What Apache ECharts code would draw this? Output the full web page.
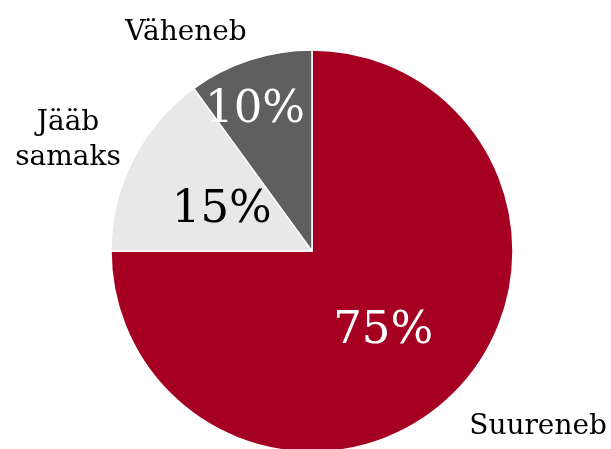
<!DOCTYPE html>
<html>
<head>
<meta charset="utf-8">
<script src="https://cdn.jsdelivr.net/npm/echarts@6/dist/echarts.min.js"></script>
<style>
html,body{margin:0;padding:0;background:#fff;}
#chart{width:611px;height:449px;}
</style>
</head>
<body>
<div id="chart"></div>
<script>
var names = ['Suureneb', 'Jääb\nsamaks', 'Väheneb'];
var values = [75, 15, 10];
var colors = ['#a50021', '#e8e8e8', '#5f5f5f'];
var pctColors = ['#ffffff', '#000000', '#ffffff'];

var font = 'Georgia, "DejaVu Serif", serif';
var data = [];
for (var i = 0; i < names.length; i++) {
	data.push({
		name: names[i],
		value: values[i],
		itemStyle: {color: colors[i]},
		label: {color: pctColors[i]}
	});
}
var nameData = [];
for (var j = 0; j < names.length; j++) {
	nameData.push({name: names[j], value: values[j]});
}

// nudges for the labels
var pctShift = [[-2, 7], [2, 6], [-25, -42]];
var nameShift = [[3, 27], [-51, -15], [5, -18]];

var chart = echarts.init(document.getElementById('chart'));
var option = {
	animation: false,
	series: [
		{
			type: 'pie',
			center: [312, 251],
			radius: 201,
			startAngle: 90,
			clockwise: true,
			silent: true,
			itemStyle: {borderColor: '#fff', borderWidth: 1.5},
			label: {
				position: 'inside',
				fontFamily: font,
				fontSize: 45,
				formatter: '{c}%'
			},
			labelLayout: function (p) {
				return {dx: pctShift[p.dataIndex][0], dy: pctShift[p.dataIndex][1]};
			},
			data: data
		},
		{
			type: 'pie',
			center: [312, 251],
			radius: 201,
			startAngle: 90,
			clockwise: true,
			silent: true,
			itemStyle: {color: 'rgba(0,0,0,0)'},
			label: {
				position: 'outside',
				fontFamily: font,
				fontSize: 28,
				color: '#000',
				lineHeight: 35,
				overflow: 'none'
			},
			labelLine: {show: false, length: 10, length2: 0},
			labelLayout: function (p) {
				var o = {dx: nameShift[p.dataIndex][0], dy: nameShift[p.dataIndex][1]};
				if (p.dataIndex === 1) o.align = 'center';
				return o;
			},
			data: nameData
		}
	]
};
chart.setOption(option);
</script>
</body>
</html>
